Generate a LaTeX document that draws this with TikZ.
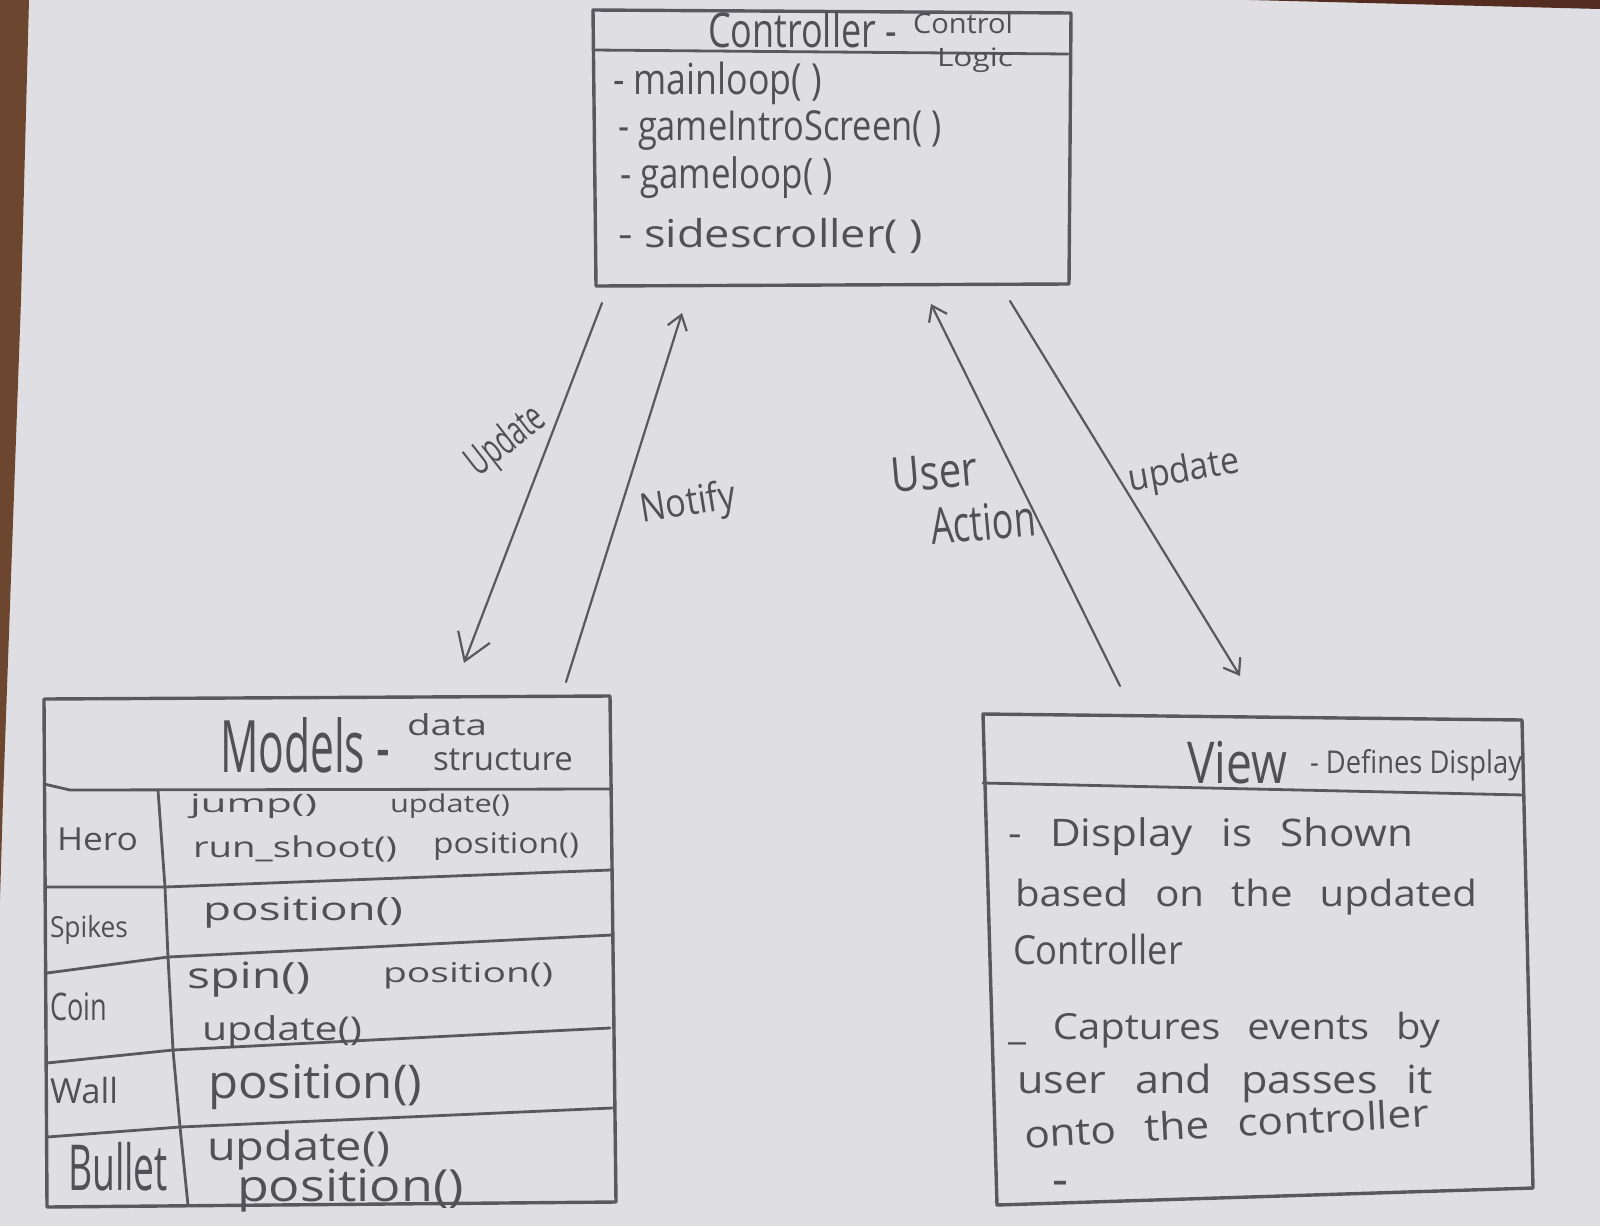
\documentclass[tikz,border=0pt]{standalone}
\usepackage{fontspec}
\usepackage{graphicx}
\setmainfont{Open Sans}
\newfontfamily\handwide[WordSpace=2.6]{Open Sans}
\usetikzlibrary{arrows.meta}
\definecolor{paper}{RGB}{222,222,227}
\definecolor{pencil}{RGB}{88,88,94}
\definecolor{lead}{RGB}{80,80,86}
\definecolor{wood}{RGB}{108,70,46}
\definecolor{woodtop}{RGB}{84,44,32}
% handwritten-like text: width in pt, optional vertical stretch
\newcommand\hw[3][1.2]{\resizebox{#2pt}{!}{\scalebox{1}[#1]{#3}}}
\tikzset{
  box/.style={draw=pencil, line width=1.7pt, line join=round, line cap=round},
  rule/.style={draw=pencil, line width=1.4pt, line cap=round, line join=round},
  hand/.style={inner sep=0pt, outer sep=0pt, text=lead, anchor=base west,
               font=\fontsize{20}{24}\selectfont},
  handc/.style={hand, anchor=center},
  conn/.style={draw=pencil, line width=1.1pt, line cap=round,
               -{Straight Barb[length=7pt,width=10pt,line width=1.1pt]}},
  connbig/.style={conn, -{Straight Barb[length=13pt,width=17pt,line width=1.1pt]}}
}
\begin{document}
\begin{tikzpicture}[x=0.5pt,y=-0.5pt]
\useasboundingbox (0,0) rectangle (1600,1226);
% paper and table edges
\fill[paper] (0,0) rectangle (1600,1226);
\fill[wood] (0,0) -- (29,0) -- (21,300) -- (3,800) -- (0,900) -- cycle;
\fill[woodtop] (1250,0) -- (1600,0) -- (1600,9) -- cycle;

% ---------------- Controller box
\coordinate (ctl) at (593,10);  \coordinate (ctr) at (1071,13);
\coordinate (cbr) at (1069,284); \coordinate (cbl) at (596,286);
\draw[box] (ctl) -- (ctr) -- (cbr) -- (cbl) -- cycle;
\coordinate (chl) at (593,50); \coordinate (chr) at (1068,54);
\draw[rule] (chl) -- (chr);
\node[hand] (ctitle) at (708,47) {\hw[1.33]{94.5}{Controller -}};
\node[hand] (cctl) at (913,33) {\hw[0.95]{50}{Control}};
\node[hand] (clogic) at (937,66) {\hw[0.8]{38}{Logic}};
\node[hand] (m1) at (613,94) {\hw[1.2]{104.5}{- mainloop( )}};
\node[hand] (m2) at (618,140) {\hw[1.2]{162}{- gameIntroScreen( )}};
\node[hand] (m3) at (620,188) {\hw[1.2]{106.5}{- gameloop( )}};
\node[hand] (m4) at (618,247) {\hw[0.85]{152.5}{- sidescroller( )}};

% ---------------- Models box
\coordinate (mtl) at (44,699);  \coordinate (mtr) at (610,696);
\coordinate (mbr) at (616,1202); \coordinate (mbl) at (47,1207);
\draw[box] (mtl) -- (mtr) -- (mbr) -- (mbl) -- cycle;
\draw[rule] (44,784) -- (70,790) -- (612,789);
\draw[rule] (158,790) -- (165,887) -- (168,957) -- (173,1050) -- (180,1127) -- (188,1205);
\draw[rule] (47,887) -- (165,887) -- (611,870);
\draw[rule] (47,973) -- (168,957) -- (612,935);
\draw[rule] (47,1063) -- (173,1050) -- (610,1028);
\draw[rule] (47,1137) -- (180,1127) -- (612,1108);
\node[hand] (mtitle) at (220,772) {\hw[1.7]{85}{Models -}};
\node[hand] (mdata) at (407,735) {\hw[0.75]{40}{data}};
\node[hand] (mstruct) at (433,770) {\hw[1.0]{70}{structure}};
\node[hand] (hero) at (57,850) {\hw[0.9]{40.5}{Hero}};
\node[hand] (hjump) at (190,812) {\hw[0.6]{63.5}{jump()}};
\node[hand] (hupd) at (390,812) {\hw[0.8]{60}{update()}};
\node[hand] (hrun) at (193,857) {\hw[0.75]{102}{run\_shoot()}};
\node[hand] (hpos) at (433,853) {\hw[0.85]{73}{position()}};
\node[hand] (spikes) at (50,937) {\hw[1.1]{39}{Spikes}};
\node[hand] (spos) at (203,920) {\hw[0.7]{100}{position()}};
\node[hand] (coin) at (50,1020) {\hw[1.4]{28.5}{Coin}};
\node[hand] (cspin) at (187,988) {\hw[0.75]{61.5}{spin()}};
\node[hand] (cpos) at (383,982) {\hw[0.7]{85}{position()}};
\node[hand] (cupd) at (202,1040) {\hw[0.8]{80}{update()}};
\node[hand] (wall) at (50,1103) {\hw[1.0]{34}{Wall}};
\node[hand] (wpos) at (208,1098) {\hw[0.95]{107}{position()}};
\node[hand] (bullet) at (68,1190) {\hw[1.7]{50}{Bullet}};
\node[hand] (bupd) at (207,1160) {\hw[0.85]{91.5}{update()}};
\node[hand] (bpos) at (237,1201) {\hw[0.85]{113.5}{position()}};

% ---------------- View box
\coordinate (vtl) at (983,714);  \coordinate (vtr) at (1522,720);
\coordinate (vbr) at (1533,1188); \coordinate (vbl) at (997,1205);
\draw[box] (vtl) -- (vtr) -- (vbr) -- (vbl) -- cycle;
\coordinate (vhl) at (983,783); \coordinate (vhr) at (1524,795);
\draw[rule] (vhl) -- (vhr);
\node[hand] (vtitle) at (1187,783) {\hw[1.25]{50}{View}};
\node[hand] (vdef) at (1310,773) {\hw[1.15]{106}{- Defines Display}};
\node[hand] (v1) at (1008,846) {\hw[0.9]{202.5}{\handwide - Display is Shown}};
\node[hand] (v2) at (1015,906) {\hw[0.9]{231}{\handwide based on the updated}};
\node[hand] (v3) at (1013,964) {\hw[1.1]{85}{Controller}};
\node[hand] (v4) at (1008,1039) {\hw[0.9]{216}{\handwide \_ Captures events by}};
\node[hand] (v5) at (1017,1093) {\hw[0.9]{208}{\handwide user and passes it}};
\node[hand, rotate=3] (v6) at (1025,1148) {\hw[0.9]{202.5}{\handwide onto the controller}};
\node[hand] (vdash) at (1052,1196) {\hw[1.0]{8}{-}};

% ---------------- Connectors
\coordinate (a1s) at (602,303);  \coordinate (a1e) at (464,663);
\coordinate (a2s) at (566,682);  \coordinate (a2e) at (682,313);
\coordinate (a3s) at (1120,686); \coordinate (a3e) at (931,304);
\coordinate (a4s) at (1010,301); \coordinate (a4e) at (1240,676);
\draw[connbig] (a1s) -- (a1e);
\draw[conn] (a2s) -- (a2e);
\draw[conn] (a3s) -- (a3e);
\draw[conn] (a4s) -- (a4e);
\node[handc, rotate=38] (lupd) at (507,442) {\hw[1.6]{44}{Update}};
\node[handc, rotate=9] (lnot) at (688,505) {\hw[1.15]{48}{Notify}};
\node[handc, rotate=5] (luser) at (934,472) {\hw[1.2]{43.5}{User}};
\node[handc, rotate=5] (lact) at (983,522) {\hw[1.4]{52.5}{Action}};
\node[handc, rotate=10] (lupd2) at (1184,472) {\hw[1.1]{56}{update}};
\end{tikzpicture}
\end{document}
